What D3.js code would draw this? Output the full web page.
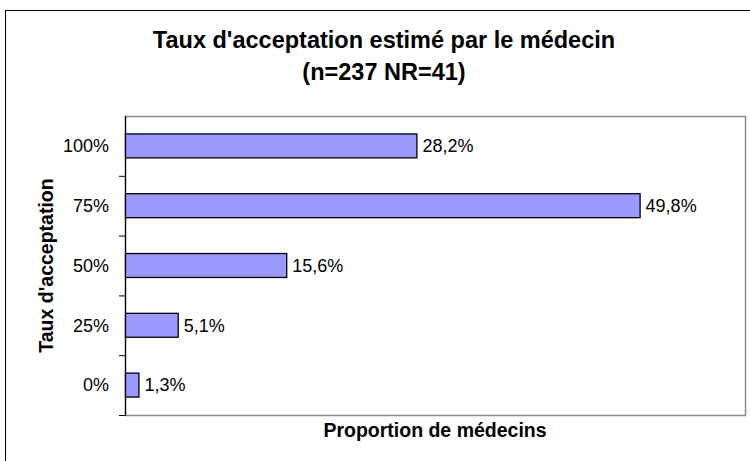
<!DOCTYPE html>
<html>
<head>
<meta charset="utf-8">
<script src="https://cdn.jsdelivr.net/npm/d3@7"></script>
<style>
  body { margin: 0; background: #fff; }
  svg { display: block; font-family: "Liberation Sans", Arial, sans-serif; }
</style>
</head>
<body>
<div id="chart"></div>
<script>
  const W = 750;
  const H = 461;

  // categories top to bottom, values in %
  const categories = ["100%", "75%", "50%", "25%", "0%"];
  const values = [28.2, 49.8, 15.6, 5.1, 1.3];
  const valueLabels = ["28,2%", "49,8%", "15,6%", "5,1%", "1,3%"];

  const titleLines = ["Taux d'acceptation estimé par le médecin", "(n=237 NR=41)"];
  const yTitle = "Taux d'acceptation";
  const xTitle = "Proportion de médecins";

  const plot = { left: 125, top: 116, right: 745, bottom: 415 };

  const svg = d3.select("#chart")
    .append("svg")
    .attr("width", W)
    .attr("height", H);

  // outer chart frame
  svg.append("rect")
    .attr("x", 5.5).attr("y", 10.5)
    .attr("width", 760).attr("height", 470)
    .attr("fill", "#fff")
    .attr("stroke", "#000")
    .attr("stroke-width", 1);

  const x = d3.scaleLinear().domain([0, 60]).range([plot.left, plot.right]);
  const y = d3.scaleBand()
    .domain(categories)
    .range([plot.top, plot.bottom])
    .paddingInner(0.6)
    .paddingOuter(0.3);

  // plot area border (gray)
  svg.append("rect")
    .attr("x", plot.left + 0.5).attr("y", plot.top + 0.5)
    .attr("width", plot.right - plot.left).attr("height", plot.bottom - plot.top)
    .attr("fill", "none")
    .attr("stroke", "#8c8c8c")
    .attr("stroke-width", 1.5);

  // left axis with ticks between categories
  const step = (plot.bottom - plot.top) / categories.length;
  const axisG = svg.append("g");
  axisG.append("line")
    .attr("x1", plot.left + 0.5).attr("x2", plot.left + 0.5)
    .attr("y1", plot.top).attr("y2", plot.bottom + 1)
    .attr("stroke", "#000").attr("stroke-width", 1.2);
  axisG.selectAll("line.tick")
    .data(d3.range(1, categories.length + 1))
    .join("line")
    .attr("class", "tick")
    .attr("x1", plot.left - 6).attr("x2", plot.left)
    .attr("y1", (i) => plot.top + i * step + 0.5)
    .attr("y2", (i) => plot.top + i * step + 0.5)
    .attr("stroke", "#000").attr("stroke-width", 1);

  axisG.selectAll("text.cat")
    .data(categories)
    .join("text")
    .attr("class", "cat")
    .attr("x", plot.left - 16)
    .attr("y", (d) => y(d) + y.bandwidth() / 2)
    .attr("dy", "0.35em")
    .attr("text-anchor", "end")
    .attr("font-size", 18)
    .text((d) => d);

  // bars
  const data = categories.map((c, i) => ({ cat: c, v: values[i], label: valueLabels[i] }));

  svg.append("g").selectAll("rect")
    .data(data)
    .join("rect")
    .attr("x", plot.left + 0.5)
    .attr("y", (d) => y(d.cat))
    .attr("width", (d) => x(d.v) - plot.left)
    .attr("height", y.bandwidth())
    .attr("fill", "#9999ff")
    .attr("stroke", "#000")
    .attr("stroke-width", 1.3);

  svg.append("g").selectAll("text")
    .data(data)
    .join("text")
    .attr("x", (d) => x(d.v) + 6)
    .attr("y", (d) => y(d.cat) + y.bandwidth() / 2)
    .attr("dy", "0.35em")
    .attr("font-size", 18)
    .text((d) => d.label);

  // titles
  svg.append("g").selectAll("text")
    .data(titleLines)
    .join("text")
    .attr("x", 384)
    .attr("y", (d, i) => 48 + i * 32)
    .attr("text-anchor", "middle")
    .attr("font-size", 23.5)
    .attr("font-weight", "bold")
    .text((d) => d);

  svg.append("text")
    .attr("transform", `translate(53, ${(plot.top + plot.bottom) / 2}) rotate(-90)`)
    .attr("text-anchor", "middle")
    .attr("font-size", 19.5)
    .attr("font-weight", "bold")
    .text(yTitle);

  svg.append("text")
    .attr("x", 435)
    .attr("y", 437)
    .attr("text-anchor", "middle")
    .attr("font-size", 19.5)
    .attr("font-weight", "bold")
    .text(xTitle);
</script>
</body>
</html>
